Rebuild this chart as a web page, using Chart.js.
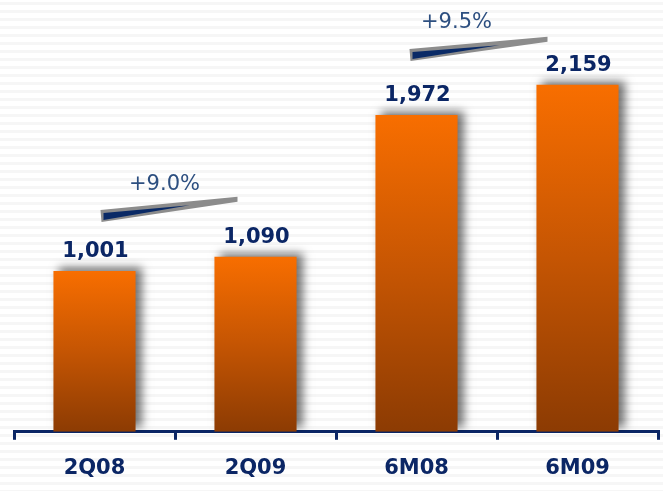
<!DOCTYPE html>
<html>
<head>
<meta charset="utf-8">
<script src="https://cdn.jsdelivr.net/npm/chart.js@4.4.1/dist/chart.umd.min.js"></script>
<style>
  html, body { margin: 0; padding: 0; background: #fff; }
  #wrap { width: 663px; height: 491px; }
</style>
</head>
<body>
<div id="wrap"><canvas id="graphC"></canvas></div>
<script>
var periods = ["2Q08", "2Q09", "6M08", "6M09"];
var revenue = [1001, 1090, 1972, 2159];
var growthText = ["+9.0%", "+9.5%"];
var growthPairs = [[0, 1], [2, 3]];

var navy = "#0b2665";
// wedge placement relative to the two bars: [dx1, dy1, dx2, dy2, textX, textY]
var wedgeOffsets = [
    [6, -55, -18, -57, -91, -67],
    [-7, -60, -30, -45, -121, -57]
];

// faint horizontal stripes behind everything
var stripes = {
    id: "stripes",
    beforeDraw: function (chart) {
        var c = chart.ctx;
        c.save();
        c.fillStyle = "#ffffff";
        c.fillRect(0, 0, chart.width, chart.height);
        c.fillStyle = "rgba(0,0,0,0.035)";
        for (var y = 2; y < chart.height; y += 8) {
            c.fillRect(0, y, chart.width, 3);
        }
        c.restore();
    }
};

// soft shadow on the bars
var barShadow = {
    id: "barShadow",
    beforeDatasetsDraw: function (chart) {
        var c = chart.ctx;
        c.save();
        c.shadowColor = "rgba(0,0,0,0.55)";
        c.shadowBlur = 9;
        c.shadowOffsetX = 6;
        c.shadowOffsetY = -4;
    },
    afterDatasetsDraw: function (chart) {
        chart.ctx.restore();
    }
};

// values above bars + growth wedges
var labels = {
    id: "labels",
    afterDatasetsDraw: function (chart) {
        var c = chart.ctx;
        var meta = chart.getDatasetMeta(0);
        c.save();
        c.fillStyle = navy;
        c.font = "bold 21px 'DejaVu Sans'";
        c.textAlign = "center";
        c.textBaseline = "alphabetic";
        meta.data.forEach(function (bar, i) {
            c.fillText(revenue[i].toLocaleString("en-US"), bar.x + 1, bar.y - 14);
        });

        growthPairs.forEach(function (p, k) {
            var a = meta.data[p[0]], b = meta.data[p[1]];
            var o = wedgeOffsets[k];
            var x1 = a.x + o[0], y1 = a.y + o[1];
            var x2 = b.x + o[2], y2 = b.y + o[3];
            // gray outer wedge
            c.fillStyle = "#8c8c8c";
            c.beginPath();
            c.moveTo(x1, y1 - 6);
            c.lineTo(x2, y2 - 3);
            c.lineTo(x2, y2 + 2);
            c.lineTo(x1 + 1, y1 + 6);
            c.closePath();
            c.fill();
            // navy inner wedge
            var t = 0.65;
            c.fillStyle = "#0a2a66";
            c.beginPath();
            c.moveTo(x1 + 3, y1 - 3);
            c.lineTo(x1 + (x2 - x1) * t, y1 + (y2 - y1) * t);
            c.lineTo(x1 + 3, y1 + 4);
            c.closePath();
            c.fill();

            c.fillStyle = "#2d4f80";
            c.font = "21px 'DejaVu Sans'";
            c.fillText(growthText[k], b.x + o[4], b.y + o[5]);
        });
        c.restore();
    }
};

var ctx = document.getElementById("graphC").getContext("2d");
var myChart = new Chart(ctx, {
    type: "bar",
    data: {
        labels: periods,
        datasets: [{
            data: revenue,
            categoryPercentage: 1,
            barPercentage: 0.51,
            borderWidth: 0,
            backgroundColor: function (context) {
                var chart = context.chart;
                var area = chart.chartArea;
                if (!area) return "#e86a00";
                var yScale = chart.scales.y;
                var top = yScale.getPixelForValue(context.raw);
                var bottom = yScale.getPixelForValue(0);
                var g = chart.ctx.createLinearGradient(0, top, 0, bottom);
                g.addColorStop(0, "#f86e00");
                g.addColorStop(0.5, "#c55503");
                g.addColorStop(1, "#8c3b03");
                return g;
            }
        }]
    },
    options: {
        responsive: true,
        maintainAspectRatio: false,
        animation: false,
        layout: { padding: { left: 14, right: 5, top: 14, bottom: -6 } },
        plugins: { legend: { display: false }, tooltip: { enabled: false } },
        scales: {
            x: {
                grid: {
                    offset: true,
                    drawOnChartArea: false,
                    drawTicks: true,
                    tickLength: 8,
                    color: navy,
                    lineWidth: 3
                },
                border: { color: navy, width: 3 },
                ticks: {
                    color: navy,
                    font: { family: "DejaVu Sans", size: 21, weight: "bold" },
                    padding: 16
                }
            },
            y: {
                display: false,
                min: 0,
                max: 2600
            }
        }
    },
    plugins: [stripes, barShadow, labels]
});
</script>
</body>
</html>
